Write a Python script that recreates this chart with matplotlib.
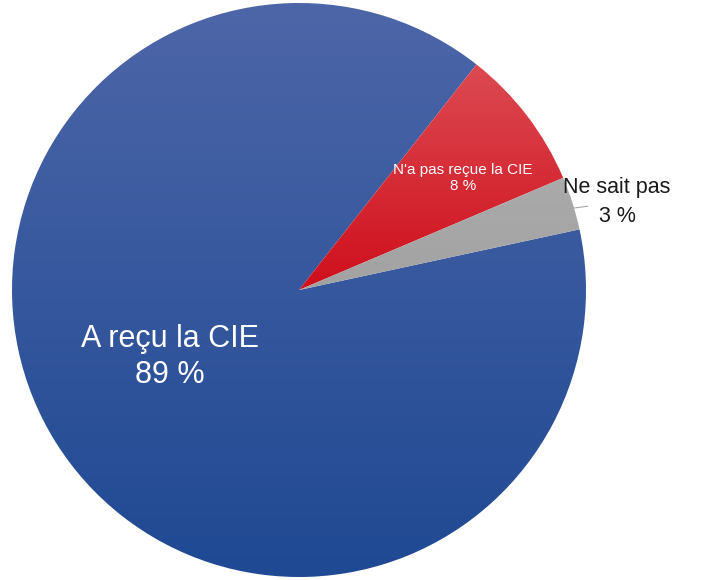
import matplotlib.pyplot as plt
import numpy as np
from matplotlib.colors import LinearSegmentedColormap

labels = ["A reçu la CIE", "N'a pas reçue la CIE", "Ne sait pas"]
values = [89, 8, 3]
pct_labels = ["89 %", "8 %", "3 %"]

plt.rcParams['font.family'] = ['Liberation Sans', 'DejaVu Sans']

W, H = 702, 580
cx, cy, r = 299, 290, 287

fig = plt.figure(figsize=(W / 100, H / 100), dpi=100)
ax = fig.add_axes([0, 0, 1, 1])

wedges, _ = ax.pie(values, center=(cx, H - cy), radius=r, startangle=12.2,
                   counterclock=False, frame=True,
                   wedgeprops=dict(linewidth=0))

# vertical gradients over each wedge (top light -> bottom dark)
grads = [("#4d66a8", "#1f4993"), ("#dc4a52", "#cf0f1c"), ("#aaaaaa", "#a2a2a2")]
for w, (c_top, c_bot) in zip(wedges, grads):
    cmap = LinearSegmentedColormap.from_list("g", [c_bot, c_top])
    grad = np.linspace(0, 1, 256).reshape(-1, 1)
    verts = w.get_path().vertices
    x0, x1 = verts[:, 0].min(), verts[:, 0].max()
    y0, y1 = verts[:, 1].min(), verts[:, 1].max()
    im = ax.imshow(grad, cmap=cmap, origin='lower', aspect='auto',
                   extent=[x0, x1, y0, y1], zorder=1)
    im.set_clip_path(w)
    w.set_facecolor('none')

ax.set_xlim(0, W)
ax.set_ylim(0, H)
ax.set_aspect('equal')
ax.axis('off')

# labels
ax.text(170, H - 357, labels[0] + "\n" + pct_labels[0], ha='center', va='center',
        color='white', fontsize=22, linespacing=1.3)
ax.text(463, H - 178, labels[1] + "\n" + pct_labels[1], ha='center', va='center',
        color='white', fontsize=11, linespacing=1.1)
ax.text(617, H - 202, labels[2] + "\n" + pct_labels[2], ha='center', va='center',
        color='#1a1a1a', fontsize=15.5, linespacing=1.45)

# leader line for the small slice
w = wedges[2]
mid = np.deg2rad((w.theta1 + w.theta2) / 2)
lx, ly = cx + r * np.cos(mid), H - cy + r * np.sin(mid)
ax.plot([lx, lx + 15], [ly - 5, ly - 3], color='#a6a6a6', lw=0.8)

fig.savefig("out.png", dpi=100)
